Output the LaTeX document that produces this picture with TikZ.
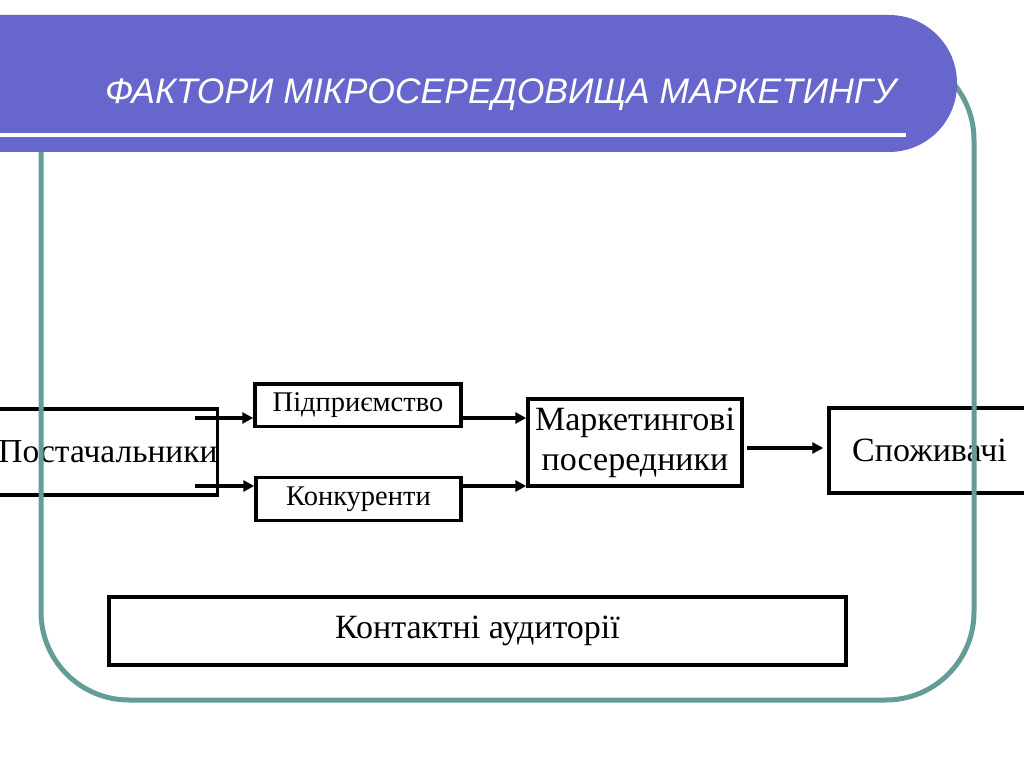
\documentclass[tikz,border=0pt]{standalone}
\usepackage{fontspec}
\setmainfont{Liberation Serif}
\newfontfamily\titlefont{Liberation Sans}
\usetikzlibrary{arrows.meta}
\definecolor{titlebg}{RGB}{102,102,204}
\definecolor{frameteal}{RGB}{100,157,152}
\tikzset{
  boxbig/.style={draw=black, line width=3.5pt, inner sep=0pt, font=\fontsize{34}{40}\selectfont, align=center},
  boxsmall/.style={draw=black, line width=3.5pt, inner sep=0pt, font=\fontsize{28.5}{32}\selectfont},
  arr/.style={line width=3.5pt, -{Triangle[length=11pt,width=11pt]}},
}
\begin{document}
\begin{tikzpicture}[x=1pt,y=-1pt]
\useasboundingbox (0,0) rectangle (1024,767);
\fill[white] (0,0) rectangle (1024,767);
% boxes
\node[boxbig, font=\fontsize{33.5}{40}\selectfont, minimum width=218pt, minimum height=86pt] (post) at (108,452) {Постачальники};
\node[boxsmall, minimum width=206pt, minimum height=42.5pt] (pidp) at (358,405) {\raisebox{-2pt}{Підприємство}};
\node[boxsmall, minimum width=205pt, minimum height=43pt] (konk) at (358.5,499) {\raisebox{-2pt}{Конкуренти}};
\node[boxbig, minimum width=214pt, minimum height=87pt] (mark) at (635,442.5) {Маркетингові\\посередники};
\node[boxbig, minimum width=201pt, minimum height=85pt] (spoz) at (929.5,450.5) {Споживачі};
\node[boxbig, font=\fontsize{34}{38}\selectfont, minimum width=737pt, minimum height=68pt] (kont) at (477.5,631) {Контактні аудиторії};
% arrows
\coordinate (ps1) at (195,418);
\coordinate (ps2) at (195,486);
\coordinate (m1) at (747,448);
\draw[arr] (ps1) -- (ps1 -| pidp.west);
\draw[arr] (ps2) -- (ps2 -| konk.west);
\draw[arr] (ps1 -| pidp.east) -- (ps1 -| mark.west);
\draw[arr] (ps2 -| konk.east) -- (ps2 -| mark.west);
\draw[arr, shorten >=4pt] (m1) -- (m1 -| spoz.west);
% frame
\draw[frameteal, line width=5pt, rounded corners=88pt] (41,52) rectangle (974,700);
% title bar
\fill[titlebg, rounded corners=68pt] (-80,15) rectangle (957,152);
\draw[white, line width=4pt] (0,135) -- (906,135);
\node[anchor=base west, inner sep=0pt, text=white, font=\titlefont\itshape\fontsize{35.5}{40}\selectfont] (title) at (105,104) {ФАКТОРИ МІКРОСЕРЕДОВИЩА МАРКЕТИНГУ};
\end{tikzpicture}
\end{document}
